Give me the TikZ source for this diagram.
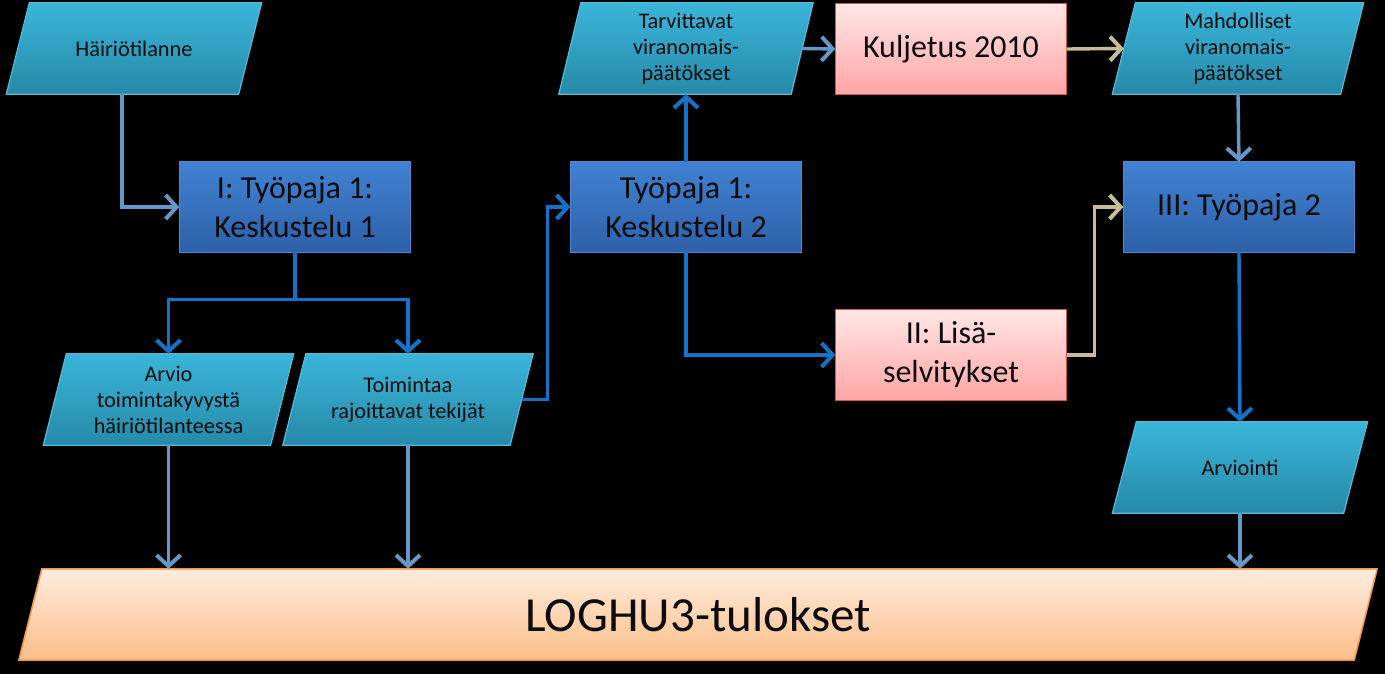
\documentclass[tikz,border=0pt]{standalone}
\usepackage{fontspec}
\setmainfont{Carlito}
\usetikzlibrary{arrows.meta,backgrounds}
\definecolor{cyanT}{RGB}{58,181,218}
\definecolor{cyanB}{RGB}{38,138,168}
\definecolor{cyanD}{RGB}{85,185,215}
\definecolor{blueT}{RGB}{64,130,210}
\definecolor{blueB}{RGB}{46,96,168}
\definecolor{blueD}{RGB}{85,135,205}
\definecolor{pinkT}{RGB}{255,230,230}
\definecolor{pinkB}{RGB}{255,165,165}
\definecolor{pinkD}{RGB}{205,85,85}
\definecolor{orT}{RGB}{254,236,222}
\definecolor{orB}{RGB}{251,190,136}
\definecolor{orD}{RGB}{247,150,70}
\definecolor{dblue}{RGB}{20,115,200}
\definecolor{lblue}{RGB}{100,152,200}
\definecolor{tanc}{RGB}{196,189,151}
\definecolor{txt}{RGB}{12,12,12}
\newcommand\paradraw[3]{\path[#2] ([xshift=-#3]#1.south west) -- ([xshift=-#3]#1.south east) -- ([xshift=#3]#1.north east) -- ([xshift=#3]#1.north west) -- cycle;}
\newcommand\rectdraw[2]{\path[#2] (#1.south west) rectangle (#1.north east);}
\begin{document}
\begin{tikzpicture}[x=1pt,y=-1pt,
  box/.style={draw=none, inner sep=0pt, align=center, minimum height=91pt, text=txt},
  para/.style={box, minimum width=#1, font=\fontsize{22.3}{26}\selectfont},
  rectb/.style={box, minimum width=231pt, minimum height=90pt, font=\fontsize{32}{39}\selectfont},
  cyanfill/.style={top color=cyanT, bottom color=cyanB, draw=cyanD, line width=1.2pt},
  bluefill/.style={top color=blueT, bottom color=blueB, draw=blueD, line width=1.2pt},
  pinkfill/.style={top color=pinkT, bottom color=pinkB, draw=pinkD, line width=1.2pt},
  orfill/.style={top color=orT, bottom color=orB, draw=orD, line width=1.5pt},
  >={Straight Barb[length=11pt,width=24pt,line width=4pt]},
  conn/.style={line width=3.4pt, ->},
  db/.style={conn, draw=dblue},
  lb/.style={conn, draw=lblue},
  tb/.style={conn, draw=tanc}]
\useasboundingbox (0,0) rectangle (1385,674);
\node[para=232pt] (hair) at (134,48.5) {Häiriötilanne};
\node[rectb] (k1) at (295,207) {I: Työpaja 1:\\Keskustelu 1};
\node[para=227pt] (arvio) at (168.5,399.5) {Arvio\\toimintakyvystä\\häiriötilanteessa};
\node[para=227pt] (toim) at (408,399.5) {Toimintaa\\rajoittavat tekijät};
\node[para=232pt] (tarv) at (686,48.5) {Tarvittavat\\viranomais-\\päätökset};
\node[rectb] (k2) at (686,207) {Työpaja 1:\\Keskustelu 2};
\node[rectb] (kulj) at (951,49) {Kuljetus 2010};
\node[para=228pt] (mahd) at (1238,48.5) {Mahdolliset\\viranomais-\\päätökset};
\node[rectb] (t2) at (1239,207) {III: Työpaja 2};
\node[rectb] (lisa) at (951,355) {II: Lisä-\\selvitykset};
\node[para=231pt] (arvi) at (1240,467.5) {Arviointi};
\node[para=1335pt, font=\fontsize{49}{57}\selectfont] (logh) at (698,614.5) {LOGHU3-tulokset};
\begin{pgfonlayer}{background}
\fill[black] (0,0) rectangle (1385,674);
\paradraw{hair}{cyanfill}{11.5pt}
\paradraw{arvio}{cyanfill}{11.5pt}
\paradraw{toim}{cyanfill}{11.5pt}
\paradraw{tarv}{cyanfill}{11pt}
\paradraw{mahd}{cyanfill}{11.5pt}
\paradraw{arvi}{cyanfill}{12pt}
\paradraw{logh}{orfill}{11.5pt}
\rectdraw{k1}{bluefill}
\rectdraw{k2}{bluefill}
\rectdraw{t2}{bluefill}
\rectdraw{kulj}{pinkfill}
\rectdraw{lisa}{pinkfill}
\end{pgfonlayer}
\draw[lb] ([xshift=-12pt]hair.south) |- (k1.west);
\draw[db] (k1.south) -- ++(0,47) coordinate (split) -| (arvio.north);
\draw[db] (split) -| (toim.north);
\draw[db] (toim.east) -- ++(26,0) |- (k2.west);
\draw[db] (k2.north) -- (tarv.south);
\draw[lb] (tarv.east) -- (kulj.west);
\draw[tb] (kulj.east) -- (mahd.west);
\draw[lb] (mahd.south) -- (t2.north);
\draw[db] (k2.south) |- (lisa.west);
\draw[tb] (lisa.east) -- ++(28,0) |- (t2.west);
\draw[db] (t2.south) -- (arvi.north);
\draw[lb] (arvio.south) -- (arvio.south |- logh.north);
\draw[lb] (toim.south) -- (toim.south |- logh.north);
\draw[lb] (arvi.south) -- (arvi.south |- logh.north);
\end{tikzpicture}
\end{document}
